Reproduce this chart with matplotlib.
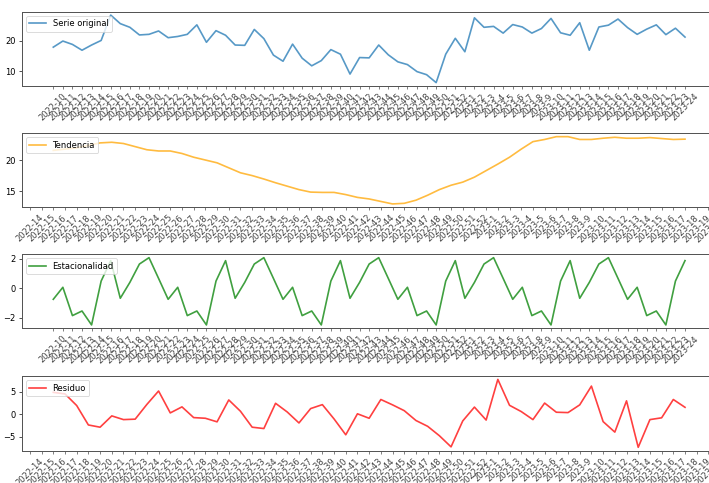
import numpy as np
import matplotlib
matplotlib.use("Agg")
import matplotlib.pyplot as plt

nan = np.nan

# Week labels (year-week)
semanas = [
    "2022-10", "2022-11", "2022-12", "2022-13", "2022-14", "2022-15", "2022-16",
    "2022-17", "2022-18", "2022-19", "2022-20", "2022-21", "2022-22", "2022-23",
    "2022-24", "2022-25", "2022-26", "2022-27", "2022-28", "2022-29", "2022-30",
    "2022-31", "2022-32", "2022-33", "2022-34", "2022-35", "2022-36", "2022-37",
    "2022-38", "2022-39", "2022-40", "2022-41", "2022-42", "2022-43", "2022-44",
    "2022-45", "2022-46", "2022-47", "2022-48", "2022-49", "2022-50", "2022-51",
    "2022-52", "2023-1", "2023-2", "2023-3", "2023-4", "2023-5", "2023-6",
    "2023-7", "2023-8", "2023-9", "2023-10", "2023-11", "2023-12", "2023-13",
    "2023-14", "2023-15", "2023-16", "2023-17", "2023-18", "2023-19", "2023-20",
    "2023-21", "2023-22", "2023-23", "2023-24",
]

serie_original = [
    17.9, 19.9, 18.8, 16.9, 18.6, 20.1, 28.4, 25.6, 24.4, 21.9, 22.1, 23.2,
    21.0, 21.4, 22.1, 25.2, 19.5, 23.3, 21.8, 18.6, 18.5, 23.7, 20.7, 15.3,
    13.3, 18.9, 14.3, 11.8, 13.5, 17.1, 15.6, 9.1, 14.5, 14.4, 18.6, 15.4,
    13.1, 12.2, 9.9, 8.9, 6.3, 15.6, 20.8, 16.4, 27.5, 24.4, 24.7, 22.5,
    25.3, 24.5, 22.5, 24.0, 27.3, 22.6, 21.8, 25.9, 16.9, 24.5, 25.1, 27.1,
    24.3, 22.1, 23.8, 25.2, 22.0, 24.1, 21.2,
]

tendencia = [
    nan, nan, nan, nan, nan, nan,
    21.6, 21.8, 22.0, 22.4, 22.8, 22.9, 22.7, 22.2, 21.7, 21.5, 21.5, 21.1,
    20.5, 20.05, 19.6, 18.8, 18.0, 17.55, 17.0, 16.4, 15.85, 15.3, 14.9, 14.85,
    14.85, 14.5, 14.05, 13.8, 13.4, 13.0, 13.1, 13.6, 14.4, 15.3, 16.0, 16.5,
    17.3, 18.35, 19.4, 20.5, 21.8, 23.0, 23.35, 23.8, 23.8, 23.35, 23.35, 23.55,
    23.7, 23.55, 23.55, 23.65, 23.5, 23.35, 23.4,
    nan, nan, nan, nan, nan, nan,
]

estacionalidad = [
    -0.74, 0.07, -1.84, -1.53, -2.47, 0.49, 1.87, -0.67, 0.40, 1.64, 2.07, 0.67,
    -0.74, 0.07, -1.84, -1.53, -2.47, 0.49, 1.87, -0.67, 0.40, 1.64, 2.07, 0.67,
    -0.74, 0.07, -1.84, -1.53, -2.47, 0.49, 1.87, -0.67, 0.40, 1.64, 2.07, 0.67,
    -0.74, 0.07, -1.84, -1.53, -2.47, 0.49, 1.87, -0.67, 0.40, 1.64, 2.07, 0.67,
    -0.74, 0.07, -1.84, -1.53, -2.47, 0.49, 1.87, -0.67, 0.40, 1.64, 2.07, 0.67,
    -0.74, 0.07, -1.84, -1.53, -2.47, 0.49, 1.87,
]

residuo = [
    nan, nan, nan, nan, nan, nan,
    4.9, 4.55, 1.95, -2.4, -2.9, -0.37, -1.2, -1.1, 2.2, 5.2, 0.3, 1.65,
    -0.75, -0.9, -1.7, 3.2, 0.67, -2.9, -3.2, 2.45, 0.5, -1.95, 1.27, 2.15,
    -1.05, -4.6, 0.1, -0.9, 3.3, 2.1, 0.8, -1.4, -2.7, -4.8, -7.3, -1.5,
    1.6, -1.3, 7.8, 2.0, 0.6, -1.2, 2.5, 0.45, 0.37, 2.1, 6.3, -1.65,
    -4.0, 3.0, -7.4, -1.2, -0.8, 3.3, 1.55,
    nan, nan, nan, nan, nan, nan,
]

W, H = 709, 483
fig = plt.figure(figsize=(W / 60, H / 60), dpi=60)

left = 21.7 / W
width = 694.9 / W
rows = [(11.7, 86.0), (133.3, 207.3), (254.3, 328.3), (376.0, 450.7)]

paneles = [
    (serie_original, "Serie original", "C0"),
    (tendencia, "Tendencia", "orange"),
    (estacionalidad, "Estacionalidad", "green"),
    (residuo, "Residuo", "red"),
]

for (top, bottom), (valores, etiqueta, color) in zip(rows, paneles):
    ax = fig.add_axes([left, (H - bottom) / H, width, (bottom - top) / H])
    ax.plot(semanas, np.array(valores, dtype=float), label=etiqueta,
            color=color, alpha=0.75, linewidth=2.0)
    ax.legend(loc="upper left")
    for lbl in ax.get_xticklabels():
        lbl.set_rotation(45)
        lbl.set_color("#444444")
    ax.tick_params(axis="x", colors="#444444")
    for s in ax.spines.values():
        s.set_edgecolor("#555555")
        s.set_linewidth(1.2)

fig.savefig("out.png", dpi=60)
